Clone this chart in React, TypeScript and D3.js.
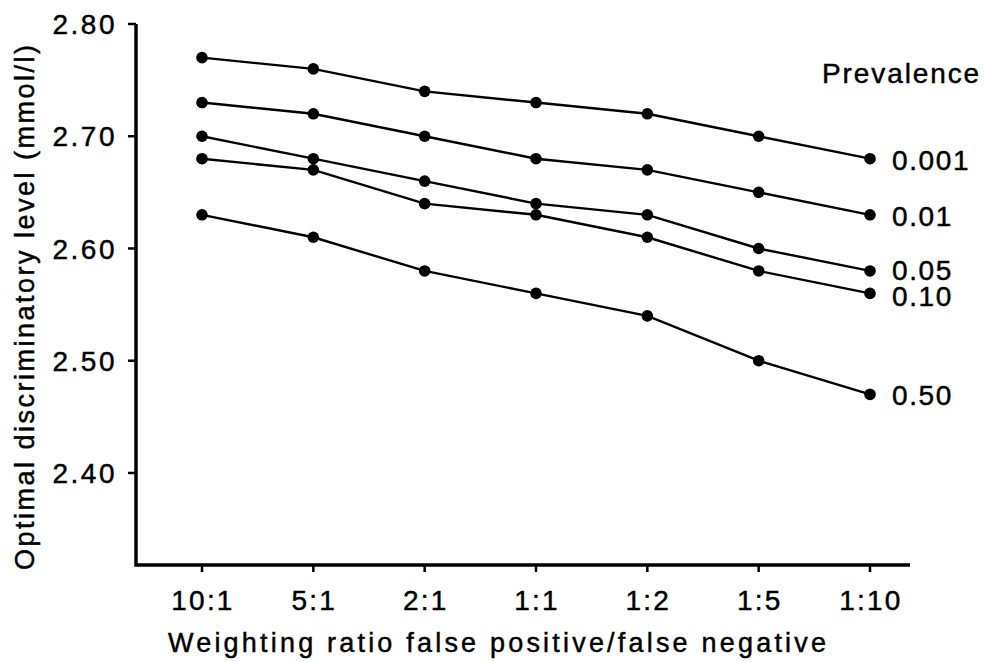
import * as d3 from "d3";
import { useEffect, useRef } from "react";

// weighting ratio false positive / false negative
const ratios = ["10:1", "5:1", "2:1", "1:1", "1:2", "1:5", "1:10"];
const prevalences = ["0.001", "0.01", "0.05", "0.10", "0.50"];

// optimal discriminatory level (mmol/l) per prevalence
const p0001 = [2.77, 2.76, 2.74, 2.73, 2.72, 2.70, 2.68];
const p001 = [2.73, 2.72, 2.70, 2.68, 2.67, 2.65, 2.63];
const p005 = [2.70, 2.68, 2.66, 2.64, 2.63, 2.60, 2.58];
const p010 = [2.68, 2.67, 2.64, 2.63, 2.61, 2.58, 2.56];
const p050 = [2.63, 2.61, 2.58, 2.56, 2.54, 2.50, 2.47];

const yTicks = [2.4, 2.5, 2.6, 2.7, 2.8];

const W = 986;
const H = 662;
const FONT = "'Liberation Sans', Arial, Helvetica, sans-serif";

const draw = (el: SVGSVGElement) => {
    const series = [p0001, p001, p005, p010, p050].map((v, i) => ({ key: prevalences[i], values: v }));
    const m = { left: 136, top: 24, right: 76, bottom: 97 };
    const iw = W - m.left - m.right;
    const ih = H - m.top - m.bottom;

    const svg = d3.select(el);
    svg.selectAll("*").remove();
    svg.attr("width", W).attr("height", H).attr("viewBox", `0 0 ${W} ${H}`)
        .style("display", "block").style("background", "#fff")
        .style("font-family", FONT);

    // slightly heavier type, like the printed original
    const ink = (s: any) => s.attr("fill", "#000").attr("stroke", "#000").attr("stroke-width", 0.45);

    const g = svg.append("g").attr("transform", `translate(${m.left},${m.top})`);

    const x = d3.scalePoint().domain(ratios).range([66, 734]);
    const y = d3.scaleLinear().domain([2.318, 2.8]).range([ih, 0]);

    // axes
    g.append("path")
        .attr("d", `M0,0 V${ih} H${iw}`)
        .attr("fill", "none").attr("stroke", "#000").attr("stroke-width", 3.5)
        .attr("stroke-linejoin", "miter");

    const yAxis = g.append("g");
    yAxis.selectAll("line").data(yTicks).join("line")
        .attr("x1", -8).attr("x2", 0)
        .attr("y1", (d) => y(d)).attr("y2", (d) => y(d))
        .attr("stroke", "#000").attr("stroke-width", 2.5);
    yAxis.selectAll("text").data(yTicks).join("text")
        .attr("x", -19).attr("y", (d) => y(d)).attr("dy", "0.36em")
        .attr("text-anchor", "end")
        .attr("font-size", 28).attr("letter-spacing", 2.5)
        .call(ink)
        .text((d) => d.toFixed(2));

    const xAxis = g.append("g");
    xAxis.selectAll("line").data(ratios).join("line")
        .attr("x1", (d) => x(d)!).attr("x2", (d) => x(d)!)
        .attr("y1", ih).attr("y2", ih + 7)
        .attr("stroke", "#000").attr("stroke-width", 2.5);
    xAxis.selectAll("text").data(ratios).join("text")
        .attr("x", (d) => x(d)! + 1).attr("y", 610 - m.top)
        .attr("text-anchor", "middle")
        .attr("font-size", 28).attr("letter-spacing", 2.2)
        .call(ink)
        .text((d) => d);

    // axis titles
    svg.append("text")
        .attr("x", 168).attr("y", 652)
        .attr("font-size", 27)
        .attr("textLength", 658).attr("lengthAdjust", "spacing")
        .call(ink)
        .text("Weighting ratio false positive/false negative");

    svg.append("text")
        .attr("transform", "translate(34,570) rotate(-90)")
        .attr("font-size", 27)
        .attr("textLength", 525).attr("lengthAdjust", "spacing")
        .call(ink)
        .text("Optimal discriminatory level (mmol/l)");

    // lines and dots
    const line = d3.line<number>()
        .x((d, i) => x(ratios[i])!)
        .y((d) => y(d));

    const sg = g.selectAll("g.series").data(series).join("g").attr("class", "series");
    sg.append("path")
        .attr("d", (d) => line(d.values))
        .attr("fill", "none").attr("stroke", "#000").attr("stroke-width", 2.4);
    sg.selectAll("circle")
        .data((d) => d.values)
        .join("circle")
        .attr("cx", (d, i) => x(ratios[i])!)
        .attr("cy", (d) => y(d))
        .attr("r", 5.8)
        .attr("fill", "#000");

    // labels at line ends (0.05 / 0.10 pushed apart a little, as printed)
    const nudge: Record<string, number> = { "0.05": -1.5, "0.10": 3 };
    sg.append("text")
        .attr("x", x(ratios[ratios.length - 1])! + 22)
        .attr("y", (d) => y(d.values[d.values.length - 1]) + (nudge[d.key] ?? 1))
        .attr("dy", "0.36em")
        .attr("font-size", 28).attr("letter-spacing", 1.6)
        .call(ink)
        .text((d) => d.key);

    svg.append("text")
        .attr("x", 822).attr("y", 83)
        .attr("font-size", 28).attr("letter-spacing", 1.9)
        .call(ink)
        .text("Prevalence");
};

export default function App() {
    const ref = useRef<SVGSVGElement>(null);
    useEffect(() => {
        if (ref.current) draw(ref.current);
    }, []);
    return (
        <div style={{ position: "absolute", left: 0, top: 0 }}>
            <svg ref={ref}></svg>
        </div>
    );
}
